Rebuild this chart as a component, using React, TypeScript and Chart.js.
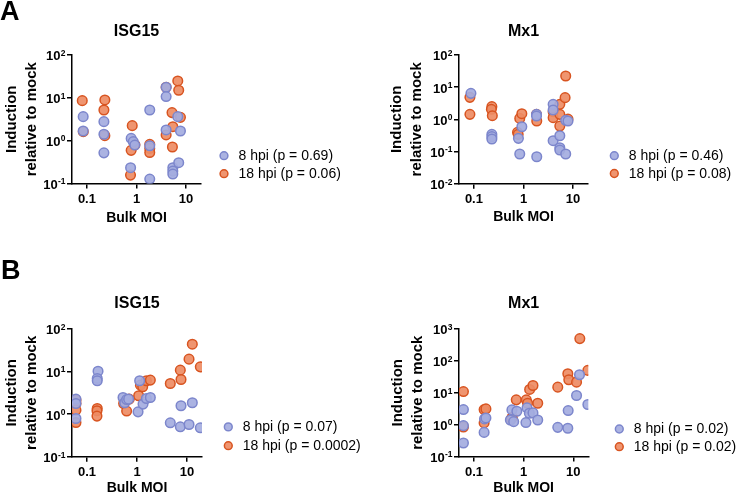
import React, { useEffect, useRef } from 'react';
import { Chart, registerables } from 'chart.js';

Chart.register(...registerables);

const FONT = '"Liberation Sans", Arial, Helvetica, sans-serif';

// ---------- Shared tick data ----------
const xTickVals = [0.1, 1, 10];
const xTickLabels = ['0.1', '1', '10'];

// ---------- Panel A – ISG15 ----------
const aIsgX8 = [0.084, 0.084, 0.22, 0.22, 0.22, 0.78, 0.86, 0.925, 0.76, 1.85, 1.85, 1.85, 3.96, 3.96, 3.96, 5.4, 5.4, 5.4, 6.8, 7.7, 7.1];
const aIsgY8 = [3.64, 1.68, 2.78, 1.41, 0.52, 1.13, 0.95, 0.79, 0.234, 5.2, 0.76, 0.127, 17.7, 10.7, 1.78, 0.234, 0.195, 0.166, 3.64, 1.68, 0.306];
const aIsgX18 = [0.0805, 0.0844, 0.23, 0.22, 0.23, 0.82, 0.78, 0.93, 0.757, 1.85, 1.85, 1.85, 3.96, 3.96, 5.2, 5.4, 5.3, 6.8, 7.1, 7.7];
const aIsgY18 = [8.6, 1.62, 8.93, 5.21, 1.31, 2.24, 0.594, 0.8, 0.157, 0.82, 0.66, 0.53, 17.7, 1.36, 4.52, 2.12, 0.71, 24.8, 15, 3.5];
const aIsgLegend = ['8 hpi (p = 0.69)', '18 hpi (p = 0.06)'];
const aIsgYTicks = [0.1, 1, 10, 100];
const aIsgYExp = ['-1', '0', '1', '2'];

// ---------- Panel A – Mx1 ----------
const aMxX8 = [0.087, 0.23, 0.23, 0.23, 0.79, 0.925, 0.84, 1.83, 1.83, 1.85, 3.96, 3.96, 3.96, 5.4, 5.4, 5.4, 7.1, 7.9, 7.1];
const aMxY8 = [6.43, 0.342, 0.29, 0.245, 0.257, 0.59, 0.0836, 1.43, 1.27, 0.069, 2.93, 1.95, 0.217, 0.31, 0.131, 0.111, 0.93, 0.89, 0.0836];
const aMxX18 = [0.083, 0.083, 0.23, 0.225, 0.235, 0.84, 0.925, 0.757, 0.78, 1.83, 1.85, 3.96, 3.96, 5.4, 5.4, 5.4, 6.9, 7.1, 7.9];
const aMxY18 = [4.83, 1.43, 2.48, 2.05, 1.3, 1.07, 1.5, 0.394, 0.342, 1.43, 0.89, 1.73, 1.13, 2.93, 1.43, 0.62, 4.72, 22.2, 1.02];
const aMxLegend = ['8 hpi (p = 0.46)', '18 hpi (p = 0.08)'];
const aMxYTicks = [0.01, 0.1, 1, 10, 100];
const aMxYExp = ['-2', '-1', '0', '1', '2'];

// ---------- Panel B – ISG15 ----------
const bIsgX8 = [0.06, 0.06, 0.06, 0.166, 0.16, 0.16, 0.525, 0.567, 0.62, 0.68, 1.13, 1.05, 1.32, 1.54, 1.85, 4.64, 7.6, 7.36, 11, 12.8, 18.5];
const bIsgY8 = [2.25, 1.78, 0.79, 10.2, 6.89, 6.07, 2.46, 1.85, 2.2, 2.25, 6.07, 1.13, 1.72, 2.33, 2.46, 0.625, 1.57, 0.504, 0.57, 1.85, 0.477];
const bIsgX18 = [0.06, 0.06, 0.06, 0.06, 0.16, 0.158, 0.158, 0.54, 0.62, 0.7, 1.08, 1.17, 1.3, 1.54, 1.85, 4.64, 7.36, 7.6, 11, 12.8, 18.5];
const bIsgY18 = [2.13, 1.78, 1.24, 0.637, 1.36, 1.2, 0.9, 1.78, 1.18, 2.25, 2.7, 4.8, 4.39, 6.07, 6.3, 5.25, 10.8, 6.52, 19.6, 44, 12.9];
const bIsgLegend = ['8 hpi (p = 0.07)', '18 hpi (p = 0.0002)'];
const bIsgYTicks = [0.1, 1, 10, 100];
const bIsgYExp = ['-1', '0', '1', '2'];

// ---------- Panel B – Mx1 ----------
const bMxX8 = [0.0614, 0.0614, 0.0614, 0.163, 0.174, 0.16, 0.58, 0.73, 0.54, 0.63, 1.17, 1.3, 1.54, 1.92, 1.11, 4.86, 7.87, 7.74, 11.6, 13.3, 19.6];
const bMxY8 = [2.97, 0.93, 0.265, 1.51, 1.62, 0.57, 2.9, 2.63, 1.4, 1.24, 3.35, 2.27, 2.33, 1.4, 1.16, 0.82, 2.76, 0.77, 8.2, 36.7, 4.27];
const bMxX18 = [0.0614, 0.0614, 0.16, 0.174, 0.16, 0.563, 0.59, 0.71, 1.13, 1.2, 1.32, 1.54, 1.92, 4.86, 7.74, 8.1, 11.6, 13.5, 19.6];
const bMxY18 = [10.9, 0.84, 2.97, 3.11, 1.13, 1.51, 1.7, 5.98, 5.98, 4.7, 12.7, 16.9, 4.7, 15, 39.4, 25.5, 21.5, 499, 50.2];
const bMxLegend = ['8 hpi (p = 0.02)', '18 hpi (p = 0.02)'];
const bMxYTicks = [0.1, 1, 10, 100, 1000];
const bMxYExp = ['-1', '0', '1', '2', '3'];

const BLUE_FILL = 'rgba(164,172,224,0.92)';
const BLUE_EDGE = '#7c86cc';
const ORANGE_FILL = 'rgba(238,140,100,0.92)';
const ORANGE_EDGE = '#d85420';

type PanelCfg = {
  left: number; top: number; w: number; h: number;
  title: string;
  x8: number[]; y8: number[]; x18: number[]; y18: number[];
  legend: string[];
  yMin: number; yMax: number; yTicks: number[]; yExp: string[];
  L: number; R: number; T: number; B: number;
  titleY: number; xTitleY: number; yTitleX: number; xTickPad: number;
  legX: number; legY: number[];
};

const panels: PanelCfg[] = [
  { left: 0, top: 0, w: 370, h: 240, title: 'ISG15', x8: aIsgX8, y8: aIsgY8, x18: aIsgX18, y18: aIsgY18, legend: aIsgLegend,
    yMin: 0.1, yMax: 100, yTicks: aIsgYTicks, yExp: aIsgYExp, L: 72, R: 201, T: 55, B: 183.5, titleY: 31.7, xTitleY: 218.5, yTitleX: 11.7, xTickPad: 3.5,
    legX: 224, legY: [155.7, 173.7] },
  { left: 370, top: 0, w: 371, h: 240, title: 'Mx1', x8: aMxX8, y8: aMxY8, x18: aMxX18, y18: aMxY18, legend: aMxLegend,
    yMin: 0.01, yMax: 100, yTicks: aMxYTicks, yExp: aMxYExp, L: 89, R: 218, T: 55, B: 183.7, titleY: 31.7, xTitleY: 216.8, yTitleX: 27, xTickPad: 3,
    legX: 244.3, legY: [155.7, 173.5] },
  { left: 0, top: 240, w: 370, h: 256, title: 'ISG15', x8: bIsgX8, y8: bIsgY8, x18: bIsgX18, y18: bIsgY18, legend: bIsgLegend,
    yMin: 0.1, yMax: 100, yTicks: bIsgYTicks, yExp: bIsgYExp, L: 72, R: 202, T: 89, B: 216.7, titleY: 63.3, xTitleY: 248.5, yTitleX: 12.3, xTickPad: 2.5,
    legX: 228.3, legY: [186.9, 205.7] },
  { left: 370, top: 240, w: 371, h: 256, title: 'Mx1', x8: bMxX8, y8: bMxY8, x18: bMxX18, y18: bMxY18, legend: bMxLegend,
    yMin: 0.1, yMax: 1000, yTicks: bMxYTicks, yExp: bMxYExp, L: 89, R: 218.3, T: 89, B: 216.5, titleY: 63.3, xTitleY: 248.5, yTitleX: 28, xTickPad: 3,
    legX: 249.3, legY: [189, 206.7] },
];

function expLabelPlugin(exps: string[]) {
  return {
    id: 'expLabels',
    afterDraw(chart: any) {
      const s = chart.scales.y;
      const ctx = chart.ctx;
      ctx.save();
      ctx.fillStyle = '#000';
      ctx.textAlign = 'right';
      ctx.textBaseline = 'alphabetic';
      s.ticks.forEach((t: any, i: number) => {
        const y = s.getPixelForValue(t.value);
        const xr = s.right - 6.5;
        const e = exps[i];
        ctx.font = `bold 8.5px ${FONT}`;
        ctx.fillText(e, xr, y + 0.8);
        const ew = ctx.measureText(e).width;
        ctx.font = `bold 13px ${FONT}`;
        ctx.fillText('10', xr - ew - 0.3, y + 5.4);
      });
      ctx.restore();
    },
  };
}

function sideLegendPlugin(legX: number, legY: number[]) {
  return {
    id: 'sideLegend',
    afterDraw(chart: any) {
      const ctx = chart.ctx;
      chart.data.datasets.forEach((ds: any, i: number) => {
        const cx = legX;
        const cy = legY[i];
        ctx.save();
        ctx.beginPath();
        ctx.arc(cx, cy, 3.9, 0, Math.PI * 2);
        ctx.fillStyle = ds.backgroundColor;
        ctx.fill();
        ctx.lineWidth = 1.5;
        ctx.strokeStyle = ds.borderColor;
        ctx.stroke();
        ctx.fillStyle = '#000';
        ctx.font = `14px ${FONT}`;
        ctx.textAlign = 'left';
        ctx.textBaseline = 'middle';
        ctx.fillText(ds.label, cx + 14.5, cy + 0.5);
        ctx.restore();
      });
    },
  };
}

function Panel({ p }: { p: PanelCfg }) {
  const ref = useRef<HTMLCanvasElement>(null);
  useEffect(() => {
    if (!ref.current) return;
    const titleLH = 16 * 1.2;
    const titlePadTop = p.titleY - titleLH / 2;
    const chart = new Chart(ref.current, {
      type: 'scatter',
      data: {
        datasets: [
          {
            label: p.legend[0],
            data: p.x8.map((x, i) => ({ x, y: p.y8[i] })),
            backgroundColor: BLUE_FILL,
            borderColor: BLUE_EDGE,
            borderWidth: 1.5,
            pointRadius: 4.8,
            pointHoverRadius: 4.8,
          },
          {
            label: p.legend[1],
            data: p.x18.map((x, i) => ({ x, y: p.y18[i] })),
            backgroundColor: ORANGE_FILL,
            borderColor: ORANGE_EDGE,
            borderWidth: 1.5,
            pointRadius: 4.8,
            pointHoverRadius: 4.8,
          },
        ],
      },
      options: {
        responsive: false,
        maintainAspectRatio: false,
        animation: false,
        events: [],
        layout: { padding: { left: 0, top: 0, bottom: 0, right: p.w - p.R } },
        plugins: {
          title: {
            display: true,
            text: p.title,
            fullSize: false,
            color: '#000',
            font: { family: FONT, size: 16, weight: 'bold', lineHeight: 1.2 },
            padding: { top: titlePadTop, bottom: p.T - titlePadTop - titleLH },
          },
          legend: { display: false },
          tooltip: { enabled: false },
        },
        scales: {
          x: {
            type: 'logarithmic',
            position: 'bottom',
            min: 0.05,
            max: 20,
            afterBuildTicks: (s: any) => { s.ticks = xTickVals.map((v) => ({ value: v })); },
            afterFit: (s: any) => { s.height = p.h - p.B; },
            ticks: {
              autoSkip: false,
              maxRotation: 0,
              minRotation: 0,
              padding: p.xTickPad,
              color: '#000',
              font: { family: FONT, size: 13, weight: 'bold', lineHeight: 1.2 },
              callback: (_v: any, i: number) => xTickLabels[i],
            },
            grid: { display: true, drawOnChartArea: false, drawTicks: true, tickLength: 5, color: '#000', lineWidth: 1.5 },
            border: { display: true, color: '#000', width: 1.5 },
            title: {
              display: true,
              text: 'Bulk MOI',
              color: '#000',
              font: { family: FONT, size: 14, weight: 'bold', lineHeight: 1 },
              padding: { top: 0, bottom: p.h - p.xTitleY - 7 },
            },
          },
          y: {
            type: 'logarithmic',
            position: 'left',
            min: p.yMin,
            max: p.yMax,
            afterBuildTicks: (s: any) => { s.ticks = p.yTicks.map((v) => ({ value: v })); },
            afterFit: (s: any) => { s.width = p.L; },
            ticks: { display: false },
            grid: { display: true, drawOnChartArea: false, drawTicks: true, tickLength: 5, color: '#000', lineWidth: 1.5 },
            border: { display: true, color: '#000', width: 1.5 },
            title: {
              display: true,
              text: ['Induction', 'relative to mock'],
              color: '#000',
              font: { family: FONT, size: 15, weight: 'bold', lineHeight: 1.333 },
              padding: { top: p.yTitleX - 10, bottom: 0 },
            },
          },
        },
      } as any,
      plugins: [expLabelPlugin(p.yExp), sideLegendPlugin(p.legX, p.legY)],
    });
    return () => chart.destroy();
  }, [p]);
  return (
    <canvas
      ref={ref}
      width={p.w}
      height={p.h}
      style={{ position: 'absolute', left: p.left, top: p.top, width: p.w, height: p.h }}
    />
  );
}

export default function App() {
  return (
    <div style={{ position: 'absolute', left: 0, top: 0, width: 741, height: 496, overflow: 'hidden', background: '#fff', fontFamily: FONT }}>
      {panels.map((p, i) => (
        <Panel key={i} p={p} />
      ))}
      <div style={{ position: 'absolute', left: 0, top: -2, fontSize: 27, fontWeight: 'bold', lineHeight: '27px', color: '#000' }}>A</div>
      <div style={{ position: 'absolute', left: 1, top: 257, fontSize: 27, fontWeight: 'bold', lineHeight: '27px', color: '#000' }}>B</div>
    </div>
  );
}
